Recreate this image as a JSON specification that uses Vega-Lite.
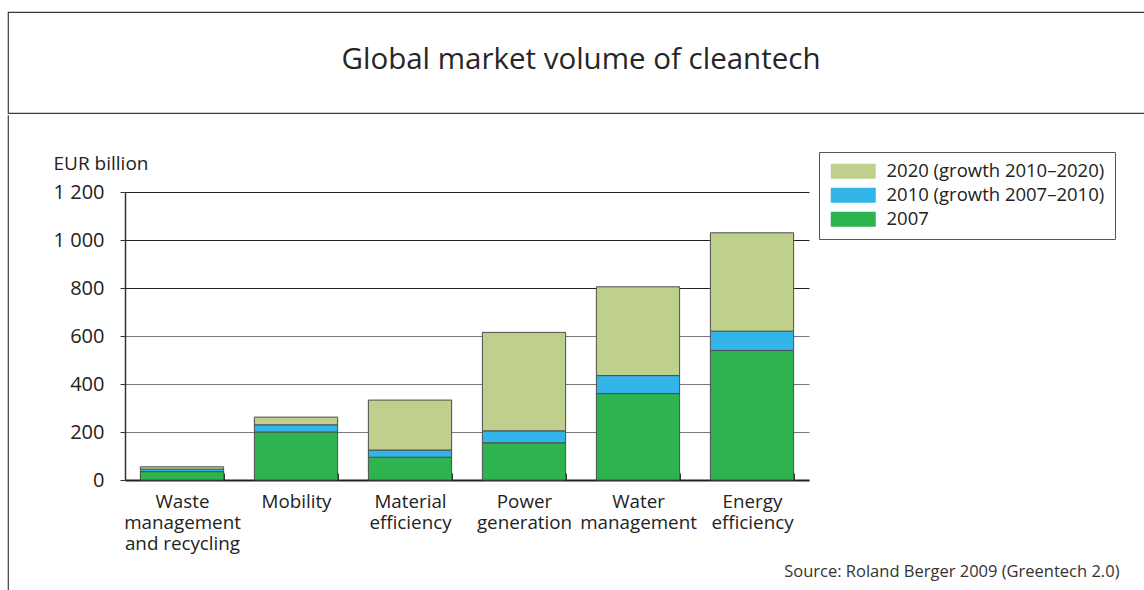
{
  "$schema": "https://vega.github.io/schema/vega-lite/v6.json",
  "padding": {"left": 7, "top": 11, "right": 0, "bottom": 0},
  "background": "white",
  "spacing": 0,
  "config": {"font": "Open Sans", "concat": {"spacing": 0}},
  "vconcat": [
    {
      "width": 1136,
      "height": 101,
      "view": {"stroke": "#3a3a3a", "strokeWidth": 1.2, "strokeDash": [1136, 101, 5000], "fill": "white"},
      "data": {"values": [{"title": "Global market volume of cleantech"}]},
      "mark": {"type": "text", "font": "Open Sans", "fontSize": 29.5, "color": "#262626", "baseline": "alphabetic", "dx": 5, "dy": 6},
      "encoding": {"text": {"field": "title", "type": "nominal"}}
    },
    {
      "width": 1136,
      "height": 476,
      "view": {"stroke": "#3a3a3a", "strokeWidth": 1.2, "strokeDash": [0, 2748, 600]},
      "data": {
        "values": [
          {"cat": "Waste|management|and recycling", "series": "2007", "ord": 1, "value": 35},
          {"cat": "Waste|management|and recycling", "series": "2010 (growth 2007–2010)", "ord": 2, "value": 10},
          {"cat": "Waste|management|and recycling", "series": "2020 (growth 2010–2020)", "ord": 3, "value": 10},
          {"cat": "Mobility", "series": "2007", "ord": 1, "value": 200},
          {"cat": "Mobility", "series": "2010 (growth 2007–2010)", "ord": 2, "value": 30},
          {"cat": "Mobility", "series": "2020 (growth 2010–2020)", "ord": 3, "value": 32},
          {"cat": "Material|efficiency", "series": "2007", "ord": 1, "value": 95},
          {"cat": "Material|efficiency", "series": "2010 (growth 2007–2010)", "ord": 2, "value": 30},
          {"cat": "Material|efficiency", "series": "2020 (growth 2010–2020)", "ord": 3, "value": 208},
          {"cat": "Power|generation", "series": "2007", "ord": 1, "value": 155},
          {"cat": "Power|generation", "series": "2010 (growth 2007–2010)", "ord": 2, "value": 50},
          {"cat": "Power|generation", "series": "2020 (growth 2010–2020)", "ord": 3, "value": 410},
          {"cat": "Water|management", "series": "2007", "ord": 1, "value": 360},
          {"cat": "Water|management", "series": "2010 (growth 2007–2010)", "ord": 2, "value": 75},
          {"cat": "Water|management", "series": "2020 (growth 2010–2020)", "ord": 3, "value": 370},
          {"cat": "Energy|efficiency", "series": "2007", "ord": 1, "value": 540},
          {"cat": "Energy|efficiency", "series": "2010 (growth 2007–2010)", "ord": 2, "value": 80},
          {"cat": "Energy|efficiency", "series": "2020 (growth 2010–2020)", "ord": 3, "value": 410}
        ]
      },
      "mark": {"type": "bar", "stroke": "#4d4d4d", "strokeWidth": 1},
      "encoding": {
        "x": {
          "field": "cat",
          "type": "nominal",
          "sort": null,
          "scale": {"range": [117, 801], "paddingInner": 0.27, "paddingOuter": 0.135},
          "axis": {
            "title": "Source: Roland Berger 2009 (Greentech 2.0)",
            "titleX": 1111,
            "titleY": 96,
            "titleAlign": "right",
            "titleBaseline": "alphabetic",
            "titleFontSize": 16.5,
            "titleFontWeight": "normal",
            "titleColor": "#333",
            "offset": -111,
            "labelExpr": "split(datum.label, '|')",
            "labelAngle": 0,
            "labelBaseline": "top",
            "labelFontSize": 18.8,
            "labelColor": "#222",
            "labelLineHeight": 21,
            "labelPadding": 19,
            "labelLimit": 300,
            "tickBand": "extent",
            "tickSize": -7,
            "tickColor": "#333",
            "domainColor": "#222",
            "domainWidth": 2
          }
        },
        "y": {
          "field": "value",
          "type": "quantitative",
          "stack": "zero",
          "scale": {"domain": [0, 1200], "range": [365, 77], "nice": false},
          "axis": {
            "title": "EUR billion",
            "titleAngle": 0,
            "titleX": -72,
            "titleY": 54,
            "titleAlign": "left",
            "titleBaseline": "alphabetic",
            "titleFontSize": 19,
            "titleFontWeight": "normal",
            "titleColor": "#222",
            "offset": -117,
            "values": [0, 200, 400, 600, 800, 1000, 1200],
            "labelExpr": "replace(format(datum.value, ',d'), ',', ' ')",
            "labelFontSize": 20,
            "labelColor": "#222",
            "labelPadding": 16,
            "labelOverlap": false,
            "tickSize": 5,
            "tickColor": "#333",
            "domainColor": "#333",
            "domainWidth": 1.5,
            "grid": true,
            "gridColor": {"condition": {"test": "datum.value >= 800", "value": "#222"}, "value": "#7a7a7a"},
            "gridWidth": 1.2
          }
        },
        "color": {
          "field": "series",
          "type": "nominal",
          "scale": {
            "domain": ["2020 (growth 2010–2020)", "2010 (growth 2007–2010)", "2007"],
            "range": ["#BFCF8C", "#33B5E9", "#2DB34F"]
          },
          "legend": {
            "title": null,
            "orient": "none",
            "legendX": 811,
            "legendY": 140,
            "direction": "vertical",
            "strokeColor": "#555",
            "fillColor": "white",
            "padding": 10,
            "symbolType": "M-1,-1H5V1H-1Z",
            "symbolSize": 225,
            "symbolStrokeWidth": 0,
            "symbolOpacity": 1,
            "labelOffset": 39,
            "labelFontSize": 18.5,
            "labelColor": "#222",
            "rowPadding": 5,
            "labelLimit": 400
          }
        },
        "order": {"field": "ord", "type": "quantitative"}
      }
    }
  ]
}
